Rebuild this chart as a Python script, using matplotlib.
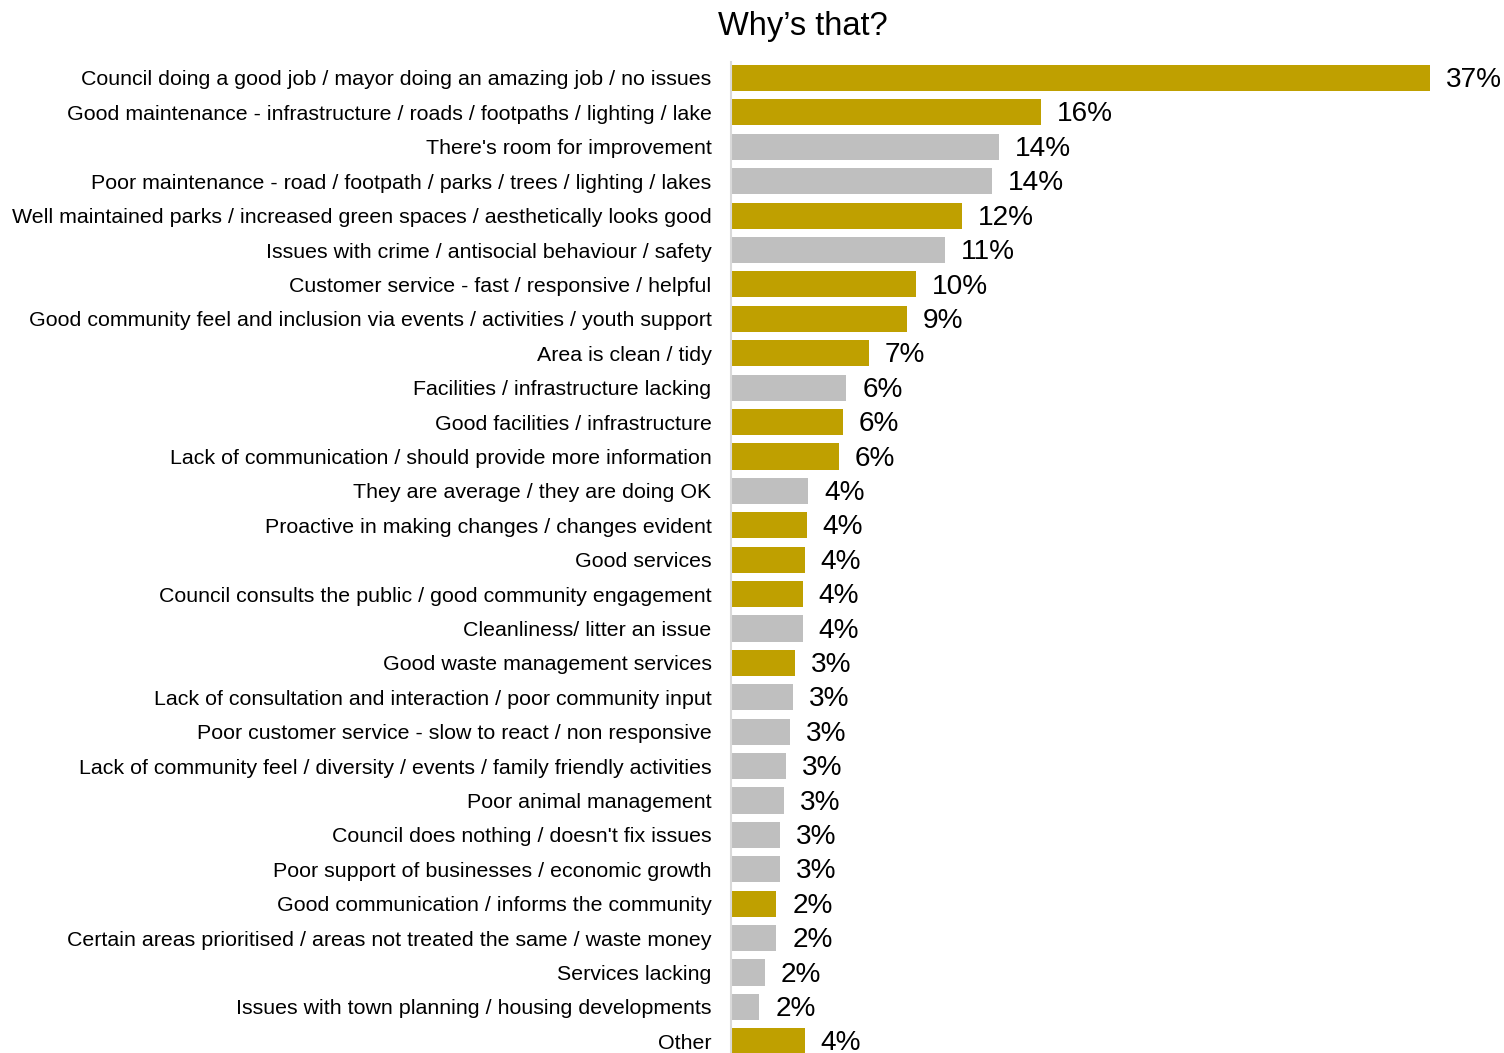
import matplotlib.pyplot as plt
import numpy as np

plt.rcParams['font.family'] = ['Liberation Sans', 'DejaVu Sans']

reasons = [
    "Council doing a good job / mayor doing an amazing job / no issues",
    "Good maintenance - infrastructure / roads / footpaths / lighting / lake",
    "There's room for improvement",
    "Poor maintenance - road / footpath / parks / trees / lighting / lakes",
    "Well maintained parks / increased green spaces / aesthetically looks good",
    "Issues with crime / antisocial behaviour / safety",
    "Customer service - fast / responsive / helpful",
    "Good community feel and inclusion via events / activities / youth support",
    "Area is clean / tidy",
    "Facilities / infrastructure lacking",
    "Good facilities / infrastructure",
    "Lack of communication / should provide more information",
    "They are average / they are doing OK",
    "Proactive in making changes / changes evident",
    "Good services",
    "Council consults the public / good community engagement",
    "Cleanliness/ litter an issue",
    "Good waste management services",
    "Lack of consultation and interaction / poor community input",
    "Poor customer service - slow to react / non responsive",
    "Lack of community feel / diversity / events / family friendly activities",
    "Poor animal management",
    "Council does nothing / doesn't fix issues",
    "Poor support of businesses / economic growth",
    "Good communication / informs the community",
    "Certain areas prioritised / areas not treated the same / waste money",
    "Services lacking",
    "Issues with town planning / housing developments",
    "Other",
]
pct = [37.0, 16.4, 14.2, 13.8, 12.2, 11.3, 9.8, 9.3, 7.3, 6.1, 5.9, 5.7,
       4.1, 4.0, 3.9, 3.8, 3.8, 3.4, 3.3, 3.1, 2.9, 2.8, 2.6, 2.6,
       2.4, 2.4, 1.8, 1.5, 3.9]
# P = positive comment, N = negative / neutral
tone = ["P", "P", "N", "N", "P", "N", "P", "P", "P", "N", "P", "P",
        "N", "P", "P", "P", "N", "P", "N", "N", "N", "N", "N", "N",
        "P", "N", "N", "N", "P"]

GOLD = "#BFA000"
GREY = "#BFBFBF"
colors = [GOLD if t == "P" else GREY for t in tone]

fig = plt.figure(figsize=(15.04, 10.53), dpi=100)
ax = fig.add_axes([731 / 1504, 0, 1 - 731 / 1504, 1 - 62 / 1053])

y = np.arange(len(reasons))
ax.barh(y, pct, height=0.76, color=colors, edgecolor="none")

for yi, v in zip(y, pct):
    ax.annotate("%d%%" % round(v), (v, yi), xytext=(11.5, -1.5), textcoords="offset points",
                va="center", ha="left", fontsize=20.2, color="black")

ax.set_xlim(0, 40.9)
ax.set_ylim(28.34, -0.465)
ax.set_yticks(y)
ax.set_yticklabels(reasons, fontsize=15.4)
ax.tick_params(axis="y", length=0, pad=14)
ax.set_xticks([])
for side in ["top", "right", "bottom"]:
    ax.spines[side].set_visible(False)
ax.spines["left"].set_color("#D9D9D9")
ax.spines["left"].set_linewidth(1.5)

fig.text(803 / 1504, 1 - 26 / 1053, "Why\u2019s that?", ha="center", va="center", fontsize=23.5)

fig.savefig("out.png", dpi=100)
